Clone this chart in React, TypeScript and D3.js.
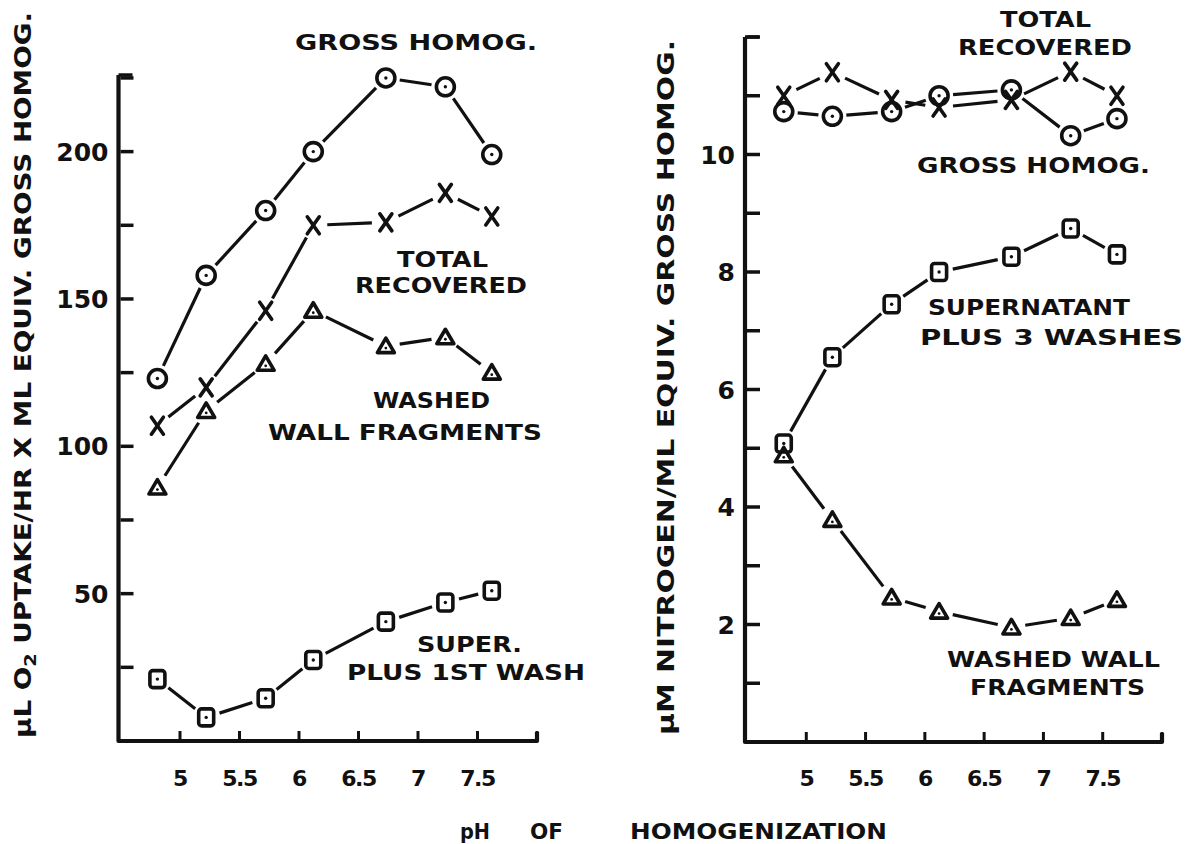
import React from "react";
import * as d3 from "d3";

// pH of homogenization, same for both panels
const phValues = [4.81, 5.22, 5.72, 6.12, 6.73, 7.23, 7.62];
const phTicks = [5, 5.5, 6, 6.5, 7, 7.5, 8];
const phTickLabels = ["5", "5.5", "6", "6.5", "7", "7.5", ""];

// left panel: uL O2 uptake / hr x ml equiv. gross homog.
const o2Gross = [123, 158, 180, 200, 225, 222, 199];
const o2Total = [107, 120, 146, 175, 176, 186, 178];
const o2Walls = [86, 112, 128, 146, 134, 137, 125];
const o2Super = [21, 8, 14.5, 27.5, 40.5, 47, 51];
const o2Ticks = [25, 50, 75, 100, 125, 150, 175, 200, 225];
const o2Labels = [50, 100, 150, 200];

// right panel: uM nitrogen / ml equiv. gross homog.
const nGross = [10.73, 10.65, 10.73, 11.0, 11.1, 10.32, 10.61];
const nTotal = [11.0, 11.4, 10.93, 10.8, 10.93, 11.41, 11.0];
const nSuper = [5.08, 6.55, 7.45, 8.0, 8.26, 8.74, 8.3];
const nWalls = [4.88, 3.78, 2.46, 2.22, 1.95, 2.11, 2.42];
const nTicks = [1, 2, 3, 4, 5, 6, 7, 8, 9, 10, 11, 12];
const nLabels = [2, 4, 6, 8, 10];

const FONT = "'DejaVu Sans', 'Liberation Sans', sans-serif";
const INK = "#111";

type Shape = "circle" | "x" | "tri" | "square";

const Marker = ({ shape, x, y }: { shape: Shape; x: number; y: number }) => {
  const sw = 3.6;
  if (shape === "circle")
    return (
      <g transform={`translate(${x},${y})`}>
        <circle r={9} fill="none" stroke={INK} strokeWidth={sw} />
        <circle r={1.7} fill={INK} />
      </g>
    );
  if (shape === "x")
    return (
      <g transform={`translate(${x},${y})`} stroke={INK} strokeWidth={sw} strokeLinecap="round">
        <line x1={-6} y1={-8.5} x2={6} y2={8.5} />
        <line x1={6} y1={-8.5} x2={-6} y2={8.5} />
      </g>
    );
  if (shape === "tri")
    return (
      <g transform={`translate(${x},${y})`}>
        <path d="M0,-8 L8.5,6.5 L-8.5,6.5 Z" fill="none" stroke={INK} strokeWidth={sw} strokeLinejoin="round" />
        <circle r={1.4} cy={2} fill={INK} />
      </g>
    );
  return (
    <g transform={`translate(${x},${y})`}>
      <rect x={-7.5} y={-8.5} width={15} height={17} rx={3} fill="none" stroke={INK} strokeWidth={sw} />
      <circle r={1.7} fill={INK} />
    </g>
  );
};

// line pieces between markers, leaving a gap round each marker
const Series = ({ xs, ys, shape }: { xs: number[]; ys: number[]; shape: Shape }) => {
  const gap = 14;
  const segs = [];
  for (let i = 0; i < xs.length - 1; i++) {
    const dx = xs[i + 1] - xs[i], dy = ys[i + 1] - ys[i];
    const len = Math.sqrt(dx * dx + dy * dy);
    if (len <= gap * 2) continue;
    const ux = dx / len, uy = dy / len;
    segs.push(
      <line key={i} x1={xs[i] + ux * gap} y1={ys[i] + uy * gap} x2={xs[i + 1] - ux * gap} y2={ys[i + 1] - uy * gap}
        stroke={INK} strokeWidth={3.2} />
    );
  }
  return (
    <g>
      {segs}
      {xs.map((x, i) => <Marker key={i} shape={shape} x={x} y={ys[i]} />)}
    </g>
  );
};

const Label = ({ x, y, len, text, size = 22 }: any) => (
  <text x={x} y={y} textLength={len} lengthAdjust="spacingAndGlyphs" fontFamily={FONT}
    fontWeight="bold" fontSize={size} fill={INK}>{text}</text>
);

const Axes = ({ x, y, yTicks, yLabels, fmt }: any) => {
  const [x0, x1] = x.range();
  const [y0, y1] = y.range();
  return (
    <g stroke={INK} fill="none">
      <path d={`M${x0 - 2},${y1} L${x0 - 2},${y0} L${x1},${y0} L${x1},${y0 - 9}`} strokeWidth={4.2} strokeLinejoin="round" />
      <line x1={x0 - 2} y1={y1} x2={x0 + 12} y2={y1} strokeWidth={3.5} />
      {yTicks.map((t: number) => (
        <line key={t} x1={x0} x2={x0 + 13} y1={y(t)} y2={y(t)} strokeWidth={3.5} />
      ))}
      {phTicks.map((t) => (
        <line key={t} x1={x(t)} x2={x(t)} y1={y0} y2={y0 - 10} strokeWidth={3} />
      ))}
      {yLabels.map((t: number) => (
        <text key={t} x={x0 - 12} y={y(t)} dy="0.36em" textAnchor="end" stroke="none" fill={INK}
          fontFamily={FONT} fontWeight="bold" fontSize={25}>{fmt(t)}</text>
      ))}
      {phTicks.map((t, i) => (
        <text key={t} x={x(t)} y={786} textAnchor="middle" stroke="none" fill={INK}
          fontFamily={FONT} fontWeight="bold" fontSize={22} letterSpacing={-1.5}>{phTickLabels[i]}</text>
      ))}
    </g>
  );
};

export default function App() {
  const xL = d3.scaleLinear().domain([4.5, 8]).range([120.5, 537]);
  const yL = d3.scaleLinear().domain([0, 226]).range([741, 75]);
  const xR = d3.scaleLinear().domain([4.5, 8]).range([747, 1162]);
  const yR = d3.scaleLinear().domain([0, 12]).range([742, 37]);

  const lx = phValues.map((p) => xL(p));
  const rx = phValues.map((p) => xR(p));

  return (
    <svg width={1188} height={844} style={{ position: "absolute", left: 0, top: 0, background: "#fff" }}>
      <rect width={1188} height={844} fill="#fff" />

      {/* left panel */}
      <Axes x={xL} y={yL} yTicks={o2Ticks} yLabels={o2Labels} fmt={(d: number) => String(d)} />
      <Series xs={lx} ys={o2Gross.map((v) => yL(v))} shape="circle" />
      <Series xs={lx} ys={o2Total.map((v) => yL(v))} shape="x" />
      <Series xs={lx} ys={o2Walls.map((v) => yL(v))} shape="tri" />
      <Series xs={lx} ys={o2Super.map((v) => yL(v))} shape="square" />

      <Label x={295} y={50} len={242} text="GROSS HOMOG." />
      <Label x={397} y={267} len={91} text="TOTAL" />
      <Label x={355} y={293} len={172} text="RECOVERED" />
      <Label x={373} y={408} len={117} text="WASHED" />
      <Label x={268} y={440} len={274} text="WALL FRAGMENTS" />
      <Label x={417} y={652} len={105} text="SUPER." />
      <Label x={347} y={680} len={238} text="PLUS 1ST WASH" />

      <text transform="translate(31,738) rotate(-90)" textLength={726} lengthAdjust="spacingAndGlyphs"
        fontFamily={FONT} fontWeight="bold" fontSize={23} fill={INK}>
        μL O<tspan dy={5} fontSize={16}>2</tspan><tspan dy={-5}> UPTAKE/HR X ML EQUIV. GROSS HOMOG.</tspan>
      </text>

      {/* right panel */}
      <Axes x={xR} y={yR} yTicks={nTicks} yLabels={nLabels} fmt={(d: number) => String(d)} />
      <Series xs={rx} ys={nSuper.map((v) => yR(v))} shape="square" />
      <Series xs={rx} ys={nWalls.map((v) => yR(v))} shape="tri" />
      <Series xs={rx} ys={nGross.map((v) => yR(v))} shape="circle" />
      <Series xs={rx} ys={nTotal.map((v) => yR(v))} shape="x" />

      <Label x={1000} y={27} len={91} text="TOTAL" />
      <Label x={958} y={55} len={174} text="RECOVERED" />
      <Label x={917} y={173} len={233} text="GROSS HOMOG." />
      <Label x={928} y={315} len={202} text="SUPERNATANT" />
      <Label x={920} y={345} len={263} text="PLUS 3 WASHES" />
      <Label x={947} y={667} len={213} text="WASHED WALL" />
      <Label x={970} y={695} len={175} text="FRAGMENTS" />

      <text transform="translate(674,735) rotate(-90)" textLength={695} lengthAdjust="spacingAndGlyphs"
        fontFamily={FONT} fontWeight="bold" fontSize={23} fill={INK}>
        μM NITROGEN/ML EQUIV. GROSS HOMOG.
      </text>

      {/* shared x title */}
      <Label x={460} y={839} len={30} text="pH" size={21} />
      <Label x={530} y={839} len={33} text="OF" size={21} />
      <Label x={630} y={839} len={257} text="HOMOGENIZATION" size={21} />
    </svg>
  );
}
